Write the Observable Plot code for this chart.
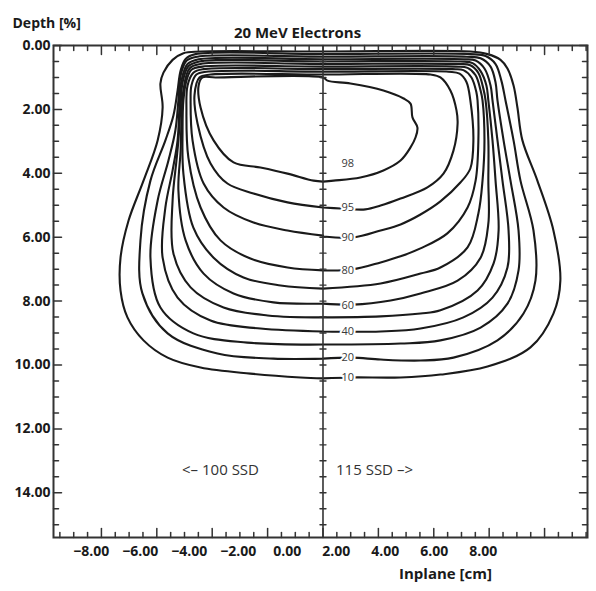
<!DOCTYPE html>
<html><head><meta charset="utf-8">
<script src="https://cdn.jsdelivr.net/npm/d3@7"></script>
<script src="https://cdn.jsdelivr.net/npm/@observablehq/plot@0.6"></script>
<style>
body{margin:0;background:#fff;}
#chart{position:relative;width:596px;height:591px;}
#chart svg{position:absolute;left:0;top:0;}
</style></head><body><div id="chart"></div>
<script>
// ---- data: isodose curves, [inplane cm, depth] ----
const levels = [10,20,30,40,50,60,70,80,90,95,98];
const iso10 = [[0,10.42],[-0.81,10.39],[-2.62,10.27],[-4.42,10.08],[-5.61,9.77],[-6.48,9.23],[-7.06,8.51],[-7.31,7.67],[-7.31,6.64],[-7.02,5.48],[-6.48,4.23],[-5.97,2.97],[-5.79,1.94],[-5.87,1.19],[-5.76,0.85],[-5.43,0.45],[-5.04,0.24],[-4.42,0.19],[0,0.19],[5.32,0.19],[5.94,0.27],[6.41,0.45],[6.66,0.72],[6.88,1.25],[7.02,1.94],[7.20,2.97],[7.74,4.23],[8.32,5.79],[8.57,7.36],[8.32,8.39],[7.49,9.45],[5.94,10.05],[4.24,10.30],[2.80,10.39],[1.06,10.39],[0,10.42]];
const iso20 = [[0,9.80],[-1.79,9.80],[-3.81,9.64],[-5.61,9.01],[-6.52,7.76],[-6.59,6.10],[-6.23,4.23],[-5.69,2.97],[-5.40,2.19],[-5.25,1.41],[-5.14,0.78],[-4.96,0.42],[-4.60,0.27],[0,0.27],[5.32,0.27],[5.87,0.33],[6.23,0.58],[6.44,1.10],[6.59,1.72],[6.88,2.97],[7.13,4.23],[7.60,5.79],[7.67,7.36],[7.24,8.39],[6.30,9.23],[4.71,9.77],[3.52,9.86],[2.08,9.83],[1.06,9.77],[0,9.80]];
const iso30 = [[0,9.36],[-2.73,9.30],[-4.68,9.01],[-5.87,8.20],[-6.23,6.64],[-5.97,4.85],[-5.58,3.60],[-5.33,2.66],[-5.22,1.72],[-5.14,0.94],[-4.93,0.48],[-4.53,0.35],[0,0.35],[5.18,0.35],[5.69,0.40],[6.05,0.66],[6.23,1.16],[6.30,1.72],[6.52,2.97],[6.77,4.23],[7.06,5.79],[7.06,7.04],[6.66,8.08],[5.69,8.83],[4.24,9.23],[2.80,9.33],[0,9.36]];
const iso40 = [[0,8.95],[-2.26,8.86],[-4.06,8.61],[-5.25,7.89],[-5.79,6.64],[-5.69,5.07],[-5.43,3.91],[-5.25,2.97],[-5.18,1.88],[-5.11,1.10],[-4.89,0.58],[-4.49,0.43],[0,0.43],[5.07,0.43],[5.51,0.47],[5.83,0.72],[6.05,1.25],[6.12,1.72],[6.30,2.97],[6.48,4.23],[6.70,5.79],[6.66,6.95],[6.12,7.89],[5.07,8.51],[3.52,8.86],[2.08,8.95],[0,8.95]];
const iso50 = [[0,8.51],[-2.00,8.45],[-3.59,8.20],[-4.78,7.57],[-5.40,6.51],[-5.43,4.85],[-5.29,3.60],[-5.22,2.97],[-5.14,1.88],[-5.07,1.16],[-4.86,0.65],[-4.46,0.50],[0,0.50],[4.96,0.50],[5.40,0.55],[5.69,0.80],[5.90,1.25],[5.97,1.72],[6.12,2.97],[6.23,4.23],[6.34,5.79],[6.16,6.82],[5.58,7.67],[4.24,8.29],[3.52,8.39],[2.08,8.48],[0,8.51]];
const iso60 = [[0,8.08],[-1.79,8.04],[-3.23,7.76],[-4.31,7.14],[-4.96,6.10],[-5.22,4.54],[-5.14,3.29],[-5.11,2.35],[-5.04,1.41],[-4.82,0.72],[-4.42,0.58],[0,0.58],[4.89,0.58],[5.32,0.62],[5.61,0.86],[5.79,1.35],[5.87,1.72],[5.97,2.97],[5.97,4.23],[5.97,5.57],[5.69,6.64],[4.86,7.36],[3.52,7.76],[2.44,7.98],[1.10,8.11],[0,8.08]];
const iso70 = [[0,7.61],[-1.53,7.51],[-2.87,7.26],[-3.95,6.64],[-4.68,5.70],[-5.04,4.01],[-5.07,2.66],[-5.04,1.72],[-4.93,1.10],[-4.75,0.76],[-4.35,0.66],[0,0.66],[4.78,0.66],[5.22,0.70],[5.51,0.93],[5.69,1.41],[5.76,1.72],[5.83,2.97],[5.76,4.23],[5.61,5.26],[5.22,6.32],[4.24,6.95],[3.52,7.14],[2.08,7.45],[0,7.61]];
const iso80 = [[0,7.04],[-1.28,6.95],[-2.62,6.67],[-3.70,6.10],[-4.42,5.07],[-4.86,3.51],[-4.93,2.03],[-4.89,1.25],[-4.68,0.85],[-4.31,0.74],[0,0.74],[4.68,0.74],[5.07,0.77],[5.36,1.00],[5.54,1.47],[5.58,1.72],[5.61,2.97],[5.51,4.23],[5.22,5.07],[4.49,5.88],[3.52,6.35],[2.80,6.60],[2.08,6.79],[1.06,7.01],[0,7.04]];
const iso90 = [[0,5.95],[-1.28,5.79],[-2.51,5.54],[-3.59,5.07],[-4.31,4.32],[-4.71,2.97],[-4.78,1.72],[-4.75,1.25],[-4.57,0.91],[-4.21,0.82],[0,0.82],[4.53,0.82],[4.93,0.88],[5.18,1.14],[5.32,1.72],[5.43,2.97],[5.32,3.85],[4.96,4.29],[4.24,4.88],[3.52,5.29],[2.80,5.60],[2.08,5.79],[1.10,6.01],[0,5.98]];
const iso95 = [[0,5.07],[-1.28,4.91],[-2.51,4.63],[-3.45,4.32],[-4.06,3.69],[-4.53,2.44],[-4.64,1.56],[-4.46,1.00],[-4.06,0.91],[0,0.91],[3.88,0.91],[4.24,1.00],[4.60,1.41],[4.82,2.03],[4.86,2.44],[4.71,3.29],[4.35,4.01],[3.77,4.44],[2.80,4.79],[2.08,5.01],[1.53,5.13],[0.63,5.10],[0,5.07]];
const iso98 = [[0,4.26],[-0.34,4.23],[-1.28,4.01],[-2.26,3.82],[-3.23,3.66],[-3.95,2.97],[-4.42,1.94],[-4.49,1.25],[-4.35,1.00],[-3.88,1.00],[0,1.00],[0.16,1.10],[0.99,1.19],[2.18,1.41],[2.91,1.66],[3.16,1.82],[3.23,2.25],[3.41,2.57],[3.34,2.88],[3.16,3.19],[2.80,3.60],[2.18,3.91],[1.35,4.13],[0.38,4.23],[0,4.26]];
const curves = [iso10, iso20, iso30, iso40, iso50, iso60, iso70, iso80, iso90, iso95, iso98];

// isodose labels (right of the central axis)
const labelLevels = [98, 95, 90, 80, 60, 40, 20, 10];
const labelDepths = [3.69, 5.07, 6.01, 7.04, 8.14, 8.95, 9.77, 10.39];
const labelInplane = 0.67;

// side notes
const sideNotes = ["<\u2013 100 SSD", "115 SSD \u2013>"];
const sideNoteInplane = [-3.70, 1.86];
const sideNoteDepth = 13.3;

// ticks
const depthLabels = [0, 2, 4, 6, 8, 10, 12, 14];
const depthMinor = [0.5,1,1.5,2.5,3,3.5,4.5,5,5.5,6.5,7,7.5,8.5,9,9.5,10.5,11,11.5,12.5,13,13.5,14.5,15];
const depthCenterTicks = [0.5,1,1.5,2,2.5,3,3.5,4,4.5,5,5.5,6,6.5,7,7.5,8,8.5,9,9.5,10,10.5,11,11.5,12,12.5,13,13.5,14,14.5,15];
const inplaneMajor = [-8, -6, -4, -2, 0, 2, 4, 6, 8];
const inplaneMinor = [-9.5,-9,-8.5,-7.5,-7,-6.5,-5.5,-5,-4.5,-3.5,-3,-2.5,-1.5,-1,-0.5,0.5,1,1.5,2.5,3,3.5,4.5,5,5.5,6.5,7,7.5,8.5,9,9.5];
const inplaneLabels = [-8, -6, -4, -2, 0, 2, 4, 6, 8];

const title = "20 MeV Electrons";
const yTitle = "Depth [%]";
const xTitle = "Inplane [cm]";

// ---- build ----
const rows = curves.flatMap((c, k) => c.map(([x, d]) => ({level: levels[k], x, depth: d})));
const labels = labelLevels.map((l, i) => ({level: l, depth: labelDepths[i]}));

const FONT = "'Open Sans', 'DejaVu Sans', sans-serif";
const INK = "#1a1a1a";
const tickShape = {draw(ctx, l) { ctx.moveTo(0, 0); ctx.lineTo(0, -l); }};
const fmt = d => d.toFixed(2).replace("-", "\u2212");

const W = 596, H = 591;
const M = {marginLeft: 53, marginRight: 9, marginTop: 45, marginBottom: 54};

const main = Plot.plot({
  width: W, height: H, ...M,
  style: {fontFamily: FONT, background: "white", color: INK},
  x: {domain: [-9.73, 9.55], axis: null},
  y: {domain: [0, 15.4], reverse: true, axis: null},
  marks: [
    Plot.line(rows, {x: "x", y: "depth", z: "level", stroke: INK, strokeWidth: 2.1, curve: "catmull-rom"}),
    Plot.ruleX([0], {stroke: "#333", strokeWidth: 1.6}),
    Plot.vector(depthCenterTicks, {x: () => 0, y: d => d, rotate: 90, length: 6, anchor: "middle", shape: tickShape, stroke: "#333", strokeWidth: 1.4}),
    Plot.text(labels, {x: () => labelInplane, y: "depth", text: d => String(d.level), textAnchor: "start", fontSize: 11, fill: "#3a3a3a", stroke: "white", strokeWidth: 4}),
    Plot.text(sideNotes, {x: (d, i) => sideNoteInplane[i], y: () => sideNoteDepth, text: d => d, fontSize: 15, fill: "#333"}),
    Plot.frame({stroke: "#333", strokeWidth: 2}),
    // left ticks
    Plot.vector(depthLabels, {y: d => d, frameAnchor: "left", rotate: 90, length: 8, anchor: "start", shape: tickShape, stroke: "#333", strokeWidth: 1.5}),
    Plot.vector(depthMinor, {y: d => d, frameAnchor: "left", rotate: 90, length: 5, anchor: "start", shape: tickShape, stroke: "#333", strokeWidth: 1.5}),
    // right ticks
    Plot.vector(depthLabels, {y: d => d, frameAnchor: "right", rotate: -90, length: 8, anchor: "start", shape: tickShape, stroke: "#333", strokeWidth: 1.5}),
    Plot.vector(depthMinor, {y: d => d, frameAnchor: "right", rotate: -90, length: 5, anchor: "start", shape: tickShape, stroke: "#333", strokeWidth: 1.5}),
    // bottom ticks
    Plot.vector(inplaneMajor, {x: d => d, frameAnchor: "bottom", rotate: 0, length: 9, anchor: "start", shape: tickShape, stroke: "#333", strokeWidth: 1.5}),
    Plot.vector(inplaneMinor, {x: d => d, frameAnchor: "bottom", rotate: 0, length: 5, anchor: "start", shape: tickShape, stroke: "#333", strokeWidth: 1.5}),
    // top ticks
    Plot.vector(inplaneMajor, {x: d => d, frameAnchor: "top", rotate: 180, length: 9, anchor: "start", shape: tickShape, stroke: "#333", strokeWidth: 1.5}),
    Plot.vector(inplaneMinor, {x: d => d, frameAnchor: "top", rotate: 180, length: 5, anchor: "start", shape: tickShape, stroke: "#333", strokeWidth: 1.5}),
    // y tick labels
    Plot.axisY(depthLabels, {anchor: "left", tickSize: 0, tickPadding: 3, tickFormat: fmt, label: null, fontSize: 14, fontWeight: "bold", fill: INK}),
    // titles
    Plot.text([title], {frameAnchor: "top", dx: -23, dy: -18, fontSize: 15, fontWeight: "bold", fill: INK}),
    Plot.text([yTitle], {frameAnchor: "top-left", dx: -41, dy: -27, textAnchor: "start", fontSize: 14, fontWeight: "bold", fill: INK}),
    Plot.text([xTitle], {frameAnchor: "bottom", dx: 125, dy: 41, fontSize: 15, fontWeight: "bold", fill: INK})
  ]
});

// printed inplane tick labels sit on their own (compressed) scale in the original figure
const labelsLayer = Plot.plot({
  width: W, height: H, ...M,
  style: {fontFamily: FONT, background: "transparent", color: INK},
  x: {domain: [-9.54, 12.26], axis: null},
  marks: [
    Plot.axisX(inplaneLabels, {anchor: "bottom", tickSize: 0, tickPadding: 9, tickFormat: fmt, label: null, fontSize: 14, fontWeight: "bold", fill: INK})
  ]
});

const host = document.getElementById("chart");
host.append(main, labelsLayer);
</script></body></html>
